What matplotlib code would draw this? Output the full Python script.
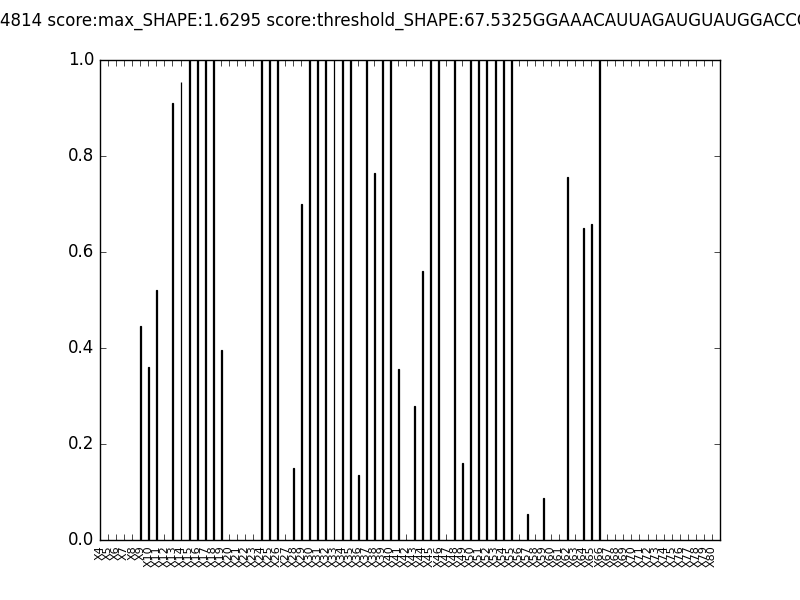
import matplotlib
matplotlib.use("Agg")
import matplotlib.pyplot as plt
import numpy as np

plt.style.use('classic')

labels = ["X%d" % n for n in range(4, 81)]

values = [
    0, 0, 0, 0, 0,            # X4-X8
    0.446, 0.36, 0.52, 0,     # X9-X12
    0.91, 0.955, 1.0, 1.0, 1.0, 1.0,  # X13-X18
    0.396, 0, 0, 0, 0,        # X19-X23
    1.0, 1.0, 1.0, 0,         # X24-X27
    0.15, 0.70,               # X28-X29
    1.0, 1.0, 1.0, 1.0, 1.0, 1.0,  # X30-X35
    0.135, 1.0, 0.765, 1.0, 1.0,   # X36-X40
    0.356, 0, 0.28, 0.56,     # X41-X44
    1.0, 1.0, 0,              # X45-X47
    1.0, 0.16,                # X48-X49
    1.0, 1.0, 1.0, 1.0, 1.0, 1.0,  # X50-X55
    0, 0.054, 0, 0.088,       # X56-X59
    0, 0, 0.756, 0,           # X60-X63
    0.65, 0.658, 1.0,         # X64-X66
    0, 0, 0, 0, 0, 0, 0, 0, 0, 0, 0, 0, 0, 0,  # X67-X80
]

title_text = ("4814 score:max_SHAPE:1.6295 score:threshold_SHAPE:67.5325"
              "GGAAACAUUAGAUGUAUGGACCC")

fig = plt.figure(figsize=(8, 6), dpi=100)
ax = fig.add_subplot(111)

x = np.arange(len(labels))
ax.bar(x, values, width=0.12, color='k', edgecolor='k', linewidth=0.9,
       align='edge')
ax.set_xlim(0, len(labels))
ax.set_ylim(0, 1.0)
ax.set_xticks(x)
ax.set_xticklabels(labels, rotation=90, fontsize=8)

fig.text(0.0, 0.98, title_text, ha='left', va='top', fontsize=12)

fig.savefig("out.png", dpi=100)
